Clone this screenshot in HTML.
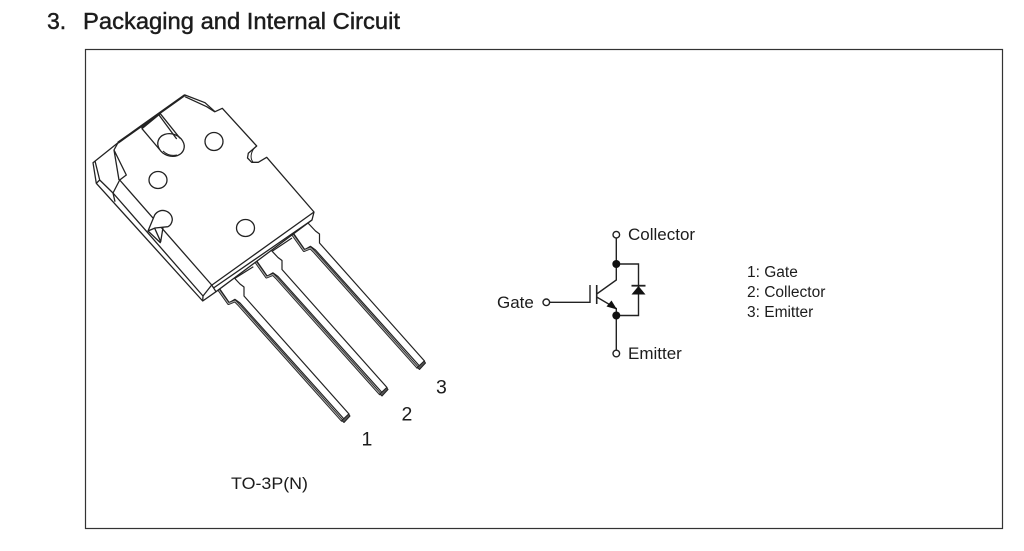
<!DOCTYPE html>
<html><head><meta charset="utf-8"><style>
html,body{margin:0;padding:0;background:#fff;width:1024px;height:551px;overflow:hidden}
svg{display:block}
text{font-family:"Liberation Sans",sans-serif;fill:#1c1c1c}
</style></head><body>
<svg width="1024" height="551" viewBox="0 0 1024 551" xmlns="http://www.w3.org/2000/svg">
<defs>
<g id="lead" fill="none" stroke-linejoin="round">
<path d="M217 285 L229.300 302.700 L235 299.300 L240 303 L344 419 L349 414 L244 296 L244 287 L240 284 L232 275.500 Z" fill="#fff" stroke="#222" stroke-width="1.200"/>
<path d="M216 286 L228.500 303.600 L235 301 L238.500 304.500 L342.500 421" stroke="#222" stroke-width="2.800"/>
<path d="M216 286 L228.500 303.600 L235 301 L238.500 304.500 L342.500 421" stroke="#aaa" stroke-width="1"/>
<path d="M341.700 420.500 L344 422.500 L350 416 L348.700 414 Z" fill="#555" stroke="#222" stroke-width="1"/>
</g>
</defs>
<rect width="1024" height="551" fill="#fff"/>
<text x="47" y="29" font-size="23" stroke="#1c1c1c" stroke-width=".45">3.</text>
<text x="83" y="29" font-size="23" textLength="317" lengthAdjust="spacingAndGlyphs" stroke="#1c1c1c" stroke-width=".45">Packaging and Internal Circuit</text>
<rect x="85.500" y="49.500" width="917" height="479" fill="none" stroke="#333" stroke-width="1.200"/>

<use href="#lead"/>
<use href="#lead" x="38" y="-26.500"/>
<use href="#lead" x="75.500" y="-53"/>
<path d="M235 278.300 L253.300 266.700 M272.500 251 L292 238" fill="none" stroke="#222" stroke-width="1.200"/>

<g fill="none" stroke="#222" stroke-width="1.300" stroke-linejoin="round">
<path d="M185 95 L205 102.700 L215 111.700 L222.300 108.300 L256.700 146 L248.300 153.300 L247.500 158 L251.700 162.300 L258.300 162.300 L266.700 157.300 L314 212 L312 220 L216 291.700 L202.700 301 L96.300 183.300 L93 162.700 L118 142.700 Z" fill="#fff"/>
<path d="M118 142.700 L185 95" stroke-width="2.200"/>
<path d="M185 96.700 L206.700 106.700 L215 112"/>
<path d="M256.700 146 C251 150 249.500 158 253 162" stroke-width="1"/>
<path d="M141.700 128.300 L160 113.300" stroke-width="2.200"/>
<path d="M141.700 128.300 L160 150 M160 113.300 L180 138.300 M159 115 L176.700 139"/>
<ellipse cx="171" cy="145" rx="13.500" ry="11" transform="rotate(20 171 145)"/>
<path d="M163 151 C167 155 172 156 177 155" stroke-width="1"/>
<ellipse cx="214" cy="141.500" rx="9" ry="9"/>
<ellipse cx="158" cy="180" rx="9" ry="8.500"/>
<ellipse cx="245.500" cy="228" rx="9" ry="8.500"/>
<path d="M118 142.700 L114 150 L126.300 175 L119.700 180 L113 193 L115 201.700 M114 150 L119 180"/>
<path d="M95 161 L99.700 180 L96.300 183.300 M99.700 180 L113 193 L203 296 L211.700 285 L119.700 180"/>
<path d="M212 285 L314 212 M213.500 288 L312 220 M203 296 L202.700 301 M211.700 285 L216 291.700"/>
<path d="M148 231 L154.700 215 A9.500 9.500 0 0 1 172.300 220 Q171.500 225 168 226.700 L155 228 Z" fill="#fff"/>
<path d="M154.700 228.300 L160.700 241.700 L163 227.500 M148 231 L160.700 243"/>
</g>

<g font-size="19.500">
<text x="361.500" y="445.700">1</text>
<text x="401.500" y="420.700">2</text>
<text x="436" y="393.500">3</text>
</g>
<text x="231" y="489" font-size="17" textLength="77" lengthAdjust="spacingAndGlyphs">TO-3P(N)</text>

<g fill="none" stroke="#222" stroke-width="1.400">
<circle cx="616.300" cy="234.700" r="3.300"/>
<circle cx="616.300" cy="353.500" r="3.300"/>
<circle cx="546.300" cy="302.300" r="3.300"/>
<path d="M616.300 238 V280 L596.700 294 M596.700 297 L616.300 308.500 V350"/>
<path d="M616.300 264 H638.500 V315.500 H616.300"/>
<path d="M549.500 302.300 H590 V285"/>
<path d="M596.700 285 V304" stroke-width="1.600"/>
<path d="M631.500 285.700 H645.500" stroke-width="1.800"/>
</g>
<g fill="#111">
<circle cx="616.300" cy="264" r="4"/>
<circle cx="616.300" cy="315.500" r="4"/>
<path d="M631.500 294.500 H645.500 L638.500 286 Z"/>
<path d="M606.500 306.500 L617 309.500 L611.500 300.500 Z"/>
</g>
<g font-size="17">
<text x="628" y="240">Collector</text>
<text x="628" y="359">Emitter</text>
<text x="497" y="308">Gate</text>
</g>
<g font-size="15.500">
<text x="747" y="277">1: Gate</text>
<text x="747" y="297">2: Collector</text>
<text x="747" y="317">3: Emitter</text>
</g>
</svg>
</body></html>
